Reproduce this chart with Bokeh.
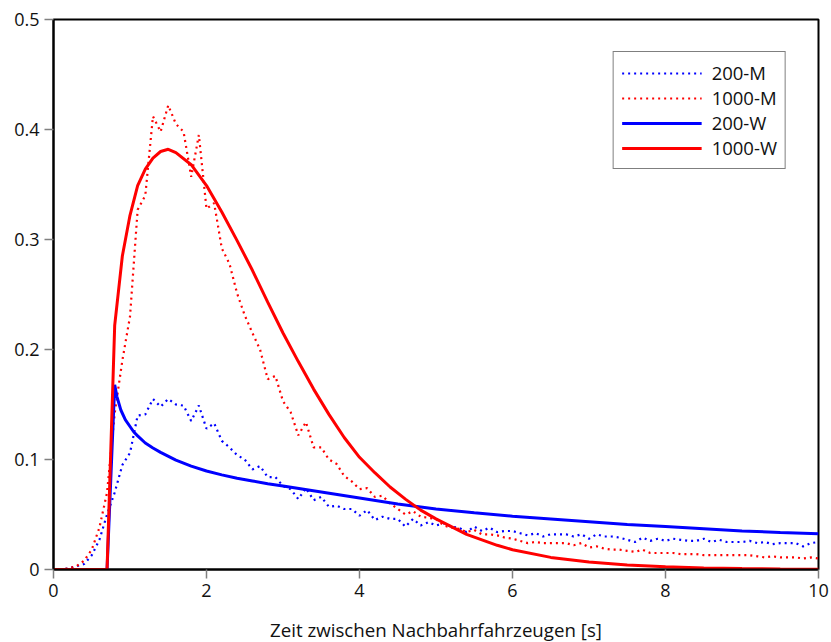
from bokeh.plotting import figure
from bokeh.models import Range1d, Legend, LegendItem, FixedTicker
from bokeh.embed import file_html
from bokeh.resources import INLINE

# ---- data -------------------------------------------------------------
x_meas = [round(0.1 * i, 1) for i in range(101)]

m200 = [0, 0, 0.001, 0.003, 0.005, 0.013, 0.027, 0.05, 0.07, 0.095,
        0.106, 0.14, 0.141, 0.155, 0.148, 0.155, 0.15, 0.149, 0.135, 0.149,
        0.128, 0.133, 0.117, 0.111, 0.104, 0.1, 0.091, 0.094, 0.084, 0.084,
        0.076, 0.073, 0.064, 0.074, 0.063, 0.066, 0.057, 0.058, 0.055, 0.055,
        0.049, 0.054, 0.045, 0.048, 0.046, 0.046, 0.039, 0.046, 0.04, 0.043,
        0.04, 0.042, 0.039, 0.038, 0.034, 0.039, 0.035, 0.038, 0.034, 0.035,
        0.035, 0.033, 0.031, 0.033, 0.030, 0.032, 0.032, 0.032, 0.03, 0.032,
        0.028, 0.032, 0.030, 0.030, 0.029, 0.027, 0.025, 0.029, 0.026, 0.028,
        0.026, 0.028, 0.027, 0.026, 0.026, 0.028, 0.025, 0.027, 0.025, 0.025,
        0.025, 0.026, 0.024, 0.025, 0.023, 0.024, 0.024, 0.024, 0.021, 0.024,
        0.025]

m1000 = [0, 0, 0.001, 0.003, 0.008, 0.018, 0.038, 0.07, 0.142, 0.19,
         0.23, 0.327, 0.34, 0.412, 0.398, 0.422, 0.405, 0.398, 0.357, 0.395,
         0.328, 0.333, 0.292, 0.278, 0.251, 0.231, 0.215, 0.2, 0.173, 0.176,
         0.153, 0.143, 0.122, 0.134, 0.111, 0.111, 0.1, 0.096, 0.085, 0.08,
         0.073, 0.074, 0.066, 0.067, 0.06, 0.055, 0.05, 0.053, 0.048, 0.047,
         0.046, 0.04, 0.038, 0.037, 0.034, 0.036, 0.032, 0.032, 0.031, 0.029,
         0.028, 0.026, 0.024, 0.025, 0.024, 0.024, 0.024, 0.024, 0.022, 0.024,
         0.02, 0.021, 0.019, 0.018, 0.018, 0.017, 0.016, 0.018, 0.015, 0.015,
         0.015, 0.015, 0.014, 0.014, 0.014, 0.013, 0.013, 0.013, 0.013, 0.013,
         0.013, 0.013, 0.012, 0.011, 0.012, 0.011, 0.011, 0.011, 0.01, 0.011,
         0.01]

x_w200 = [0, 0.7, 0.8, 0.83, 0.88, 0.94, 1.0, 1.05, 1.1, 1.2, 1.3, 1.4,
          1.6, 1.8, 2.0, 2.2, 2.4, 2.6, 2.8, 3.0, 3.5, 4.0, 4.5, 5.0, 5.5,
          6.0, 6.5, 7.0, 7.5, 8.0, 8.5, 9.0, 9.5, 10.0]
w200 = [0, 0, 0.168, 0.157, 0.145, 0.136, 0.130, 0.125, 0.1215, 0.115,
        0.1105, 0.1065, 0.0995, 0.094, 0.0895, 0.086, 0.083, 0.0805, 0.078,
        0.076, 0.0705, 0.065, 0.0595, 0.055, 0.0515, 0.0485, 0.046, 0.0435,
        0.041, 0.039, 0.037, 0.035, 0.0337, 0.0325]

x_w1000 = [0, 0.7, 0.8, 0.9, 1.0, 1.1, 1.2, 1.3, 1.4, 1.5, 1.6, 1.8, 2.0,
           2.2, 2.4, 2.6, 2.8, 3.0, 3.2, 3.4, 3.6, 3.8, 4.0, 4.2, 4.4, 4.6,
           4.8, 5.0, 5.2, 5.4, 5.6, 5.8, 6.0, 6.5, 7.0, 7.5, 8.0, 8.5, 9.0,
           9.5, 10.0]
w1000 = [0, 0, 0.222, 0.285, 0.322, 0.349, 0.364, 0.374, 0.38, 0.382, 0.379,
         0.368, 0.349, 0.325, 0.299, 0.272, 0.243, 0.215, 0.189, 0.164, 0.141,
         0.120, 0.102, 0.088, 0.075, 0.064, 0.054, 0.046, 0.039, 0.032, 0.027,
         0.022, 0.018, 0.011, 0.0068, 0.0042, 0.0025, 0.0014, 0.0008, 0.0004,
         0.0002]

labels = ["200-M", "1000-M", "200-W", "1000-W"]
x_ticks = [0, 2, 4, 6, 8, 10]
y_ticks = [0, 0.1, 0.2, 0.3, 0.4, 0.5]
y_tick_labels = ["0", "0.1", "0.2", "0.3", "0.4", "0.5"]
x_label = "Zeit zwischen Nachbahrfahrzeugen [s]"

FONT = "Open Sans"

# ---- figure -----------------------------------------------------------
p = figure(frame_width=765, frame_height=550,
           x_range=Range1d(0, 10), y_range=Range1d(0, 0.5),
           output_backend="svg", toolbar_location=None, tools="",
           min_border_left=53, min_border_right=13,
           min_border_top=19, min_border_bottom=73)

p.background_fill_color = "white"
p.border_fill_color = "white"
p.outline_line_color = "black"
p.outline_line_width = 2
p.xgrid.visible = False
p.ygrid.visible = False

r1 = p.line(x_meas, m200, line_color="#0000FF", line_width=2.2, line_dash="2 4")
r2 = p.line(x_meas, m1000, line_color="#FF0000", line_width=2.2, line_dash="2 4")
r3 = p.line(x_w200, w200, line_color="#0000FF", line_width=3)
r4 = p.line(x_w1000, w1000, line_color="#FF0000", line_width=3)

for ax in (p.xaxis[0], p.yaxis[0]):
    ax.axis_line_color = "black"
    ax.axis_line_width = 2
    ax.major_tick_line_color = "#808080"
    ax.major_tick_line_width = 1.5
    ax.major_tick_out = 9
    ax.major_tick_in = 0
    ax.minor_tick_line_color = None
    ax.major_label_text_font = FONT
    ax.major_label_text_font_size = "18px"
    ax.major_label_text_color = "#111111"
    ax.major_label_standoff = 5

p.xaxis.ticker = FixedTicker(ticks=x_ticks)
p.yaxis.ticker = FixedTicker(ticks=y_ticks)
p.xaxis.major_label_overrides = {t: str(t) for t in x_ticks}
p.yaxis.major_label_overrides = {t: s for t, s in zip(y_ticks, y_tick_labels)}

p.xaxis.axis_label = x_label
p.xaxis.axis_label_text_font = FONT
p.xaxis.axis_label_text_font_size = "18.7px"
p.xaxis.axis_label_text_font_style = "normal"
p.xaxis.axis_label_text_color = "#111111"
p.xaxis.axis_label_standoff = 17

legend = Legend(items=[LegendItem(label=l, renderers=[r]) for l, r in
                       zip(labels, [r1, r2, r3, r4])],
                location="top_right", margin=32, padding=8, spacing=0,
                glyph_width=80, glyph_height=20, label_height=20,
                label_standoff=10,
                label_text_font=FONT, label_text_font_size="18.5px",
                label_text_color="#111111",
                border_line_color="black", border_line_width=1.5,
                background_fill_color="white", background_fill_alpha=1)
p.add_layout(legend)

open("out.html", "w").write(file_html(p, INLINE))
